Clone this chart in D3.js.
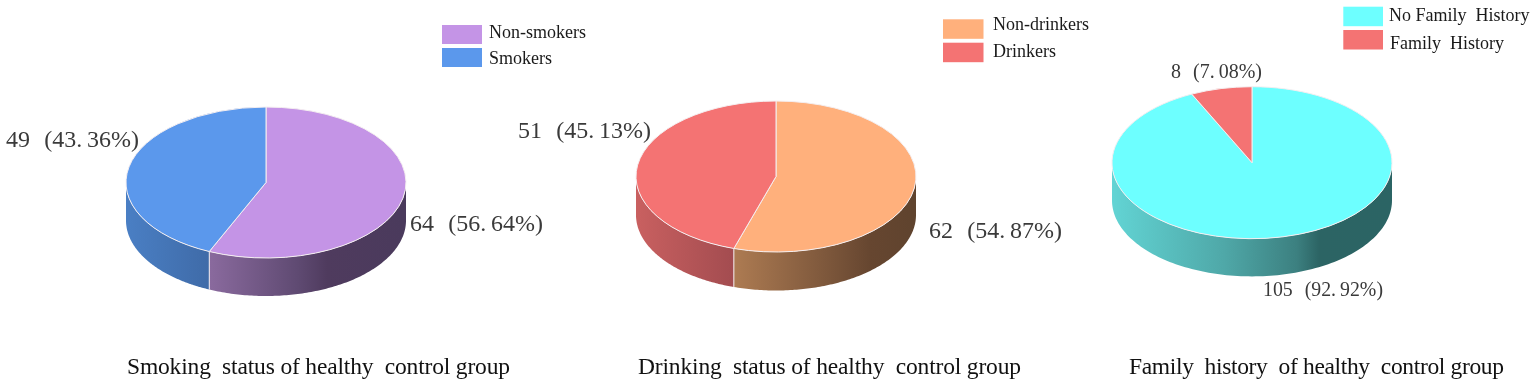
<!DOCTYPE html>
<html><head><meta charset="utf-8">
<script src="https://cdn.jsdelivr.net/npm/d3@7"></script>
<style>
html,body{margin:0;padding:0;background:#fff}
svg{display:block;filter:blur(0.35px)}
text{font-family:"Liberation Serif",serif;white-space:pre}
</style></head><body><svg id="c" width="1536" height="386"></svg>
<script>
// ---- data ----
const smokingCategories = ["Non-smokers", "Smokers"];
const smokingValues = [64, 49];
const smokingPercents = ["56.64", "43.36"];
const smokingTitle = "Smoking  status of healthy  control group";

const drinkingCategories = ["Non-drinkers", "Drinkers"];
const drinkingValues = [62, 51];
const drinkingPercents = ["54.87", "45.13"];
const drinkingTitle = "Drinking  status of healthy  control group";

const familyCategories = ["No Family  History", "Family  History"];
const familyValues = [105, 8];
const familyPercents = ["92.92", "7.08"];
const familyTitle = "Family  history  of healthy  control group";

// ---- layout and styling ----
const panels = [
 {cats:smokingCategories, vals:smokingValues, pcts:smokingPercents, title:smokingTitle,
  x:[126,406], top:107, ry:75.5, depth:38,
  top_c:["#c494e6","#5b98ec"],
  wall:[[[0,"#8a6a9e"],[.45,"#5f4a72"],[.6,"#4f3b5e"],[1,"#4a3a5c"]],[[0,"#4a7fc4"],[1,"#3f6ba8"]]],
  title_x:[127,510], leg:{x:442,w:40,h:19,y:[25,48],tx:[489,489],bl:[38,64]},
  labels:[{x:[410,543],bl:231,fs:24},{x:[6,139],bl:147,fs:24}]},
 {cats:drinkingCategories, vals:drinkingValues, pcts:drinkingPercents, title:drinkingTitle,
  x:[636,916], top:101, ry:75.5, depth:38.5,
  top_c:["#ffb07c","#f47373"],
  wall:[[[0,"#ad7b52"],[.5,"#7e583c"],[.75,"#664630"],[1,"#5f432e"]],[[0,"#c96060"],[1,"#a34c50"]]],
  title_x:[638,1021], leg:{x:943,w:40.5,h:19.5,y:[19.3,42.7],tx:[993,993],bl:[30,57]},
  labels:[{x:[929,1062],bl:238,fs:24},{x:[518,651],bl:138,fs:24}]},
 {cats:familyCategories, vals:familyValues, pcts:familyPercents, title:familyTitle,
  x:[1112,1392], top:86.7, ry:76, depth:37.7,
  top_c:["#6dffff","#f47373"],
  wall:[[[0,"#62d4d4"],[.4,"#4fa8a8"],[.66,"#3c8080"],[.74,"#2c6464"],[1,"#2b6464"]],[[0,"#c96060"],[1,"#a34c50"]]],
  title_x:[1129,1504], leg:{x:1343.3,w:39.7,h:19.5,y:[6.7,30],tx:[1389,1390],bl:[21,49]},
  labels:[{x:[1263,1383],bl:296,fs:22},{x:[1171,1262],bl:78,fs:22}]}
];
const legendFontSize = 18, titleFontSize = 23.5;
const edge = "#f4eef0";

const svg = d3.select("#c");
const defs = svg.append("defs");
const pie = d3.pie().sort(null).value(d=>d);
const TAU = Math.PI*2;

panels.forEach((p,pi)=>{
  const rx=(p.x[1]-p.x[0])/2, cx=p.x[0]+rx, cy=p.top+p.ry;
  const sx=d3.scaleLinear([-1,1],p.x), sy=d3.scaleLinear([-1,1],[p.top,p.top+2*p.ry]);
  const slices=pie(p.vals);
  const g=svg.append("g");

  // walls: the front half of the rim (90deg..270deg clockwise from top)
  slices.forEach((s,i)=>{
    const a0=Math.max(s.startAngle,TAU/4), a1=Math.min(s.endAngle,TAU*3/4);
    if(a1<=a0) return;
    const angs=d3.range(0,121).map(k=>a0+(a1-a0)*k/120);
    const gx0=sx(Math.sin(a0)), gx1=sx(Math.sin(a1));
    const id=`w${pi}_${i}`;
    const lg=defs.append("linearGradient").attr("id",id).attr("gradientUnits","userSpaceOnUse")
      .attr("x1",Math.min(gx0,gx1)).attr("x2",Math.max(gx0,gx1)).attr("y1",0).attr("y2",0);
    lg.selectAll("stop").data(p.wall[i]).join("stop").attr("offset",d=>d[0]).attr("stop-color",d=>d[1]);
    const area=d3.area().x(a=>sx(Math.sin(a))).y0(a=>sy(-Math.cos(a))).y1(a=>sy(-Math.cos(a))+p.depth);
    g.append("path").attr("d",area(angs)).attr("fill",`url(#${id})`);
  });
  // vertical seams on the wall
  slices.forEach(s=>{
    const a=s.endAngle;
    if(a>TAU/4 && a<TAU*3/4){
      g.append("line").attr("x1",sx(Math.sin(a))).attr("x2",sx(Math.sin(a)))
       .attr("y1",sy(-Math.cos(a))).attr("y2",sy(-Math.cos(a))+p.depth)
       .attr("stroke",edge).attr("stroke-width",1);
    }
  });
  // top face
  const arc=d3.arc().innerRadius(0).outerRadius(rx);
  const top=g.append("g").attr("transform",`translate(${cx},${cy}) scale(1,${p.ry/rx})`);
  top.selectAll("path").data(slices).join("path")
    .attr("d",arc).attr("fill",(d,i)=>p.top_c[i])
    .attr("stroke",edge).attr("stroke-width",1).attr("vector-effect","non-scaling-stroke");

  // value labels
  slices.forEach((s,i)=>{
    const l=p.labels[i];
    const [whole,frac]=p.pcts[i].split(".");
    const t=svg.append("text").attr("x",l.x[0]).attr("y",l.bl)
      .attr("font-size",l.fs).attr("fill","#3a3a3a");
    t.append("tspan").text(`${p.vals[i]} `);
    t.append("tspan").attr("dx","0.35em").text(`(${whole}.`);
    t.append("tspan").attr("dx","0.2em").text(`${frac}%)`);
    t.attr("textLength",l.x[1]-l.x[0]).attr("lengthAdjust","spacingAndGlyphs");
  });

  // legend
  p.cats.forEach((c,i)=>{
    svg.append("rect").attr("x",p.leg.x).attr("y",p.leg.y[i]).attr("width",p.leg.w).attr("height",p.leg.h).attr("fill",p.top_c[i]);
    svg.append("text").attr("x",p.leg.tx[i]).attr("y",p.leg.bl[i]).attr("font-size",legendFontSize).attr("fill","#1a1a1a").text(c);
  });

  // title
  svg.append("text").attr("x",p.title_x[0]).attr("y",374).attr("font-size",titleFontSize).attr("fill","#111")
    .attr("textLength",p.title_x[1]-p.title_x[0]).attr("lengthAdjust","spacing").text(p.title);
});
</script></body></html>
